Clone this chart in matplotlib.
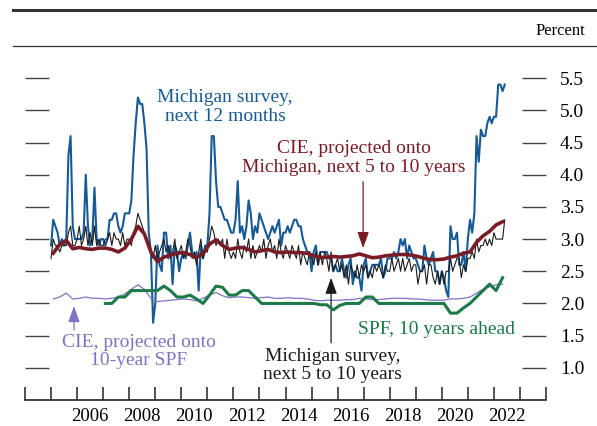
import numpy as np
import matplotlib
matplotlib.use("Agg")
import matplotlib.pyplot as plt
from matplotlib.lines import Line2D
from matplotlib.ticker import FormatStrFormatter, FixedLocator

plt.rcParams["font.family"] = ["Liberation Serif", "DejaVu Serif"]

# ---------------------------------------------------------------------------
# Data (monthly Michigan series from Jan 2005, quarterly series)
# ---------------------------------------------------------------------------

mich_12m = [
    2.9, 3.3, 3.2, 3.1, 2.9, 3.0, 2.9, 3.0, 4.3, 4.6, 3.2, 3.0,   # 2005
    3.0, 3.0, 3.0, 3.1, 4.0, 3.2, 2.9, 3.0, 3.8, 3.0, 2.9, 3.0,   # 2006
    3.0, 2.9, 3.0, 3.3, 3.3, 3.4, 3.4, 3.2, 3.1, 3.2, 3.4, 3.4,   # 2007
    3.4, 3.6, 4.3, 4.8, 5.2, 5.1, 5.1, 4.8, 4.4, 3.1, 2.8, 1.7,   # 2008
    2.0, 2.9, 2.6, 2.5, 3.1, 3.1, 2.7, 2.9, 2.3, 2.9, 2.8, 2.5,   # 2009
    2.7, 2.8, 2.7, 2.9, 3.1, 2.8, 2.7, 2.8, 2.2, 2.9, 2.7, 2.9,   # 2010
    2.9, 3.4, 4.6, 4.6, 3.9, 3.5, 3.5, 3.4, 3.3, 3.3, 3.2, 3.1,   # 2011
    3.1, 3.3, 3.9, 3.1, 3.2, 3.0, 3.2, 3.6, 3.4, 3.0, 3.2, 3.1,   # 2012
    3.4, 3.3, 3.2, 3.1, 3.0, 3.1, 3.2, 3.1, 3.2, 3.3, 2.9, 3.1,   # 2013
    3.1, 3.2, 3.1, 3.2, 3.3, 3.3, 3.2, 3.2, 3.0, 2.9, 2.8, 2.8,   # 2014
    2.5, 2.8, 2.9, 2.6, 2.8, 2.8, 2.8, 2.8, 2.7, 2.7, 2.5, 2.6,   # 2015
    2.5, 2.5, 2.7, 2.5, 2.4, 2.6, 2.7, 2.3, 2.5, 2.4, 2.4, 2.2,   # 2016
    2.6, 2.7, 2.4, 2.5, 2.6, 2.6, 2.6, 2.6, 2.7, 2.4, 2.5, 2.7,   # 2017
    2.7, 2.7, 2.8, 2.7, 2.8, 3.0, 2.9, 3.0, 2.7, 2.9, 2.8, 2.7,   # 2018
    2.7, 2.6, 2.5, 2.5, 2.9, 2.7, 2.6, 2.7, 2.8, 2.5, 2.5, 2.3,   # 2019
    2.5, 2.4, 2.2, 2.1, 3.2, 3.0, 3.0, 3.1, 2.6, 2.6, 2.8, 2.5,   # 2020
    3.0, 3.3, 3.1, 3.4, 4.6, 4.2, 4.7, 4.6, 4.6, 4.8, 4.9, 4.8,   # 2021
    4.9, 4.9, 5.4, 5.4, 5.3, 5.4,                                 # 2022
]

mich_5to10 = [
    2.7, 3.0, 2.9, 2.9, 2.8, 2.9, 2.9, 2.9, 3.1, 3.2, 2.9, 2.9,   # 2005
    3.0, 3.2, 2.9, 3.0, 3.2, 2.9, 3.1, 2.9, 3.2, 2.9, 3.0, 2.9,   # 2006
    2.9, 3.0, 3.0, 3.1, 2.9, 3.1, 3.0, 3.0, 2.9, 3.1, 2.9, 3.0,   # 2007
    3.0, 2.9, 3.1, 3.2, 3.4, 3.3, 3.2, 3.1, 3.0, 2.9, 2.8, 2.7,   # 2008
    2.9, 2.7, 2.8, 2.9, 3.0, 2.8, 2.9, 2.7, 2.8, 3.0, 2.7, 2.8,   # 2009
    2.9, 2.7, 2.8, 3.0, 2.9, 2.7, 2.8, 2.6, 2.8, 3.0, 2.7, 2.8,   # 2010
    2.8, 3.0, 3.2, 3.1, 2.9, 3.0, 2.9, 3.0, 2.7, 3.0, 2.8, 2.7,   # 2011
    2.8, 2.7, 3.0, 2.8, 2.7, 2.9, 2.8, 3.0, 2.7, 2.9, 2.7, 2.8,   # 2012
    2.9, 2.8, 3.0, 2.7, 2.9, 3.0, 2.8, 2.9, 2.7, 3.0, 2.8, 2.7,   # 2013
    2.9, 2.8, 2.7, 2.9, 2.8, 2.7, 2.9, 2.6, 2.8, 2.7, 2.6, 2.8,   # 2014
    2.7, 2.6, 2.8, 2.6, 2.8, 2.6, 2.8, 2.7, 2.5, 2.8, 2.5, 2.6,   # 2015
    2.7, 2.5, 2.6, 2.4, 2.6, 2.3, 2.6, 2.5, 2.4, 2.6, 2.4, 2.6,   # 2016
    2.5, 2.6, 2.4, 2.5, 2.4, 2.6, 2.5, 2.6, 2.5, 2.4, 2.6, 2.5,   # 2017
    2.5, 2.7, 2.5, 2.6, 2.7, 2.5, 2.7, 2.5, 2.6, 2.7, 2.5, 2.6,   # 2018
    2.6, 2.3, 2.5, 2.5, 2.6, 2.3, 2.6, 2.6, 2.4, 2.3, 2.5, 2.3,   # 2019
    2.5, 2.3, 2.5, 2.5, 2.7, 2.5, 2.6, 2.7, 2.7, 2.4, 2.6, 2.5,   # 2020
    2.7, 2.7, 2.8, 2.7, 3.0, 2.8, 2.9, 2.9, 3.0, 2.9, 3.0, 2.9,   # 2021
    3.1, 3.0, 3.0, 3.0, 3.0, 3.3,                                 # 2022
]

# quarterly, 2005:Q1 - 2022:Q2
cie_mich = [
    2.78, 2.92, 2.98, 2.85,   # 2005
    2.87, 2.85, 2.84, 2.86,   # 2006
    2.86, 2.84, 2.80, 2.86,   # 2007
    3.00, 3.20, 3.08, 2.80,   # 2008
    2.65, 2.72, 2.75, 2.78,   # 2009
    2.79, 2.76, 2.71, 2.78,   # 2010
    2.92, 2.99, 2.90, 2.84,   # 2011
    2.86, 2.87, 2.84, 2.80,   # 2012
    2.82, 2.84, 2.80, 2.79,   # 2013
    2.80, 2.79, 2.79, 2.78,   # 2014
    2.74, 2.71, 2.72, 2.73,   # 2015
    2.72, 2.73, 2.74, 2.77,   # 2016
    2.74, 2.71, 2.72, 2.74,   # 2017
    2.75, 2.76, 2.76, 2.75,   # 2018
    2.73, 2.70, 2.68, 2.68,   # 2019
    2.69, 2.72, 2.74, 2.78,   # 2020
    2.80, 2.95, 3.05, 3.12,   # 2021
    3.22, 3.27,               # 2022
]

cie_spf = [
    2.07, 2.10, 2.16, 2.07,
    2.08, 2.10, 2.08, 2.08,
    2.07, 2.08, 2.10, 2.15,
    2.22, 2.29, 2.22, 2.08,
    2.03, 2.04, 2.05, 2.06,
    2.07, 2.06, 2.04, 2.08,
    2.13, 2.17, 2.12, 2.09,
    2.10, 2.10, 2.09, 2.08,
    2.09, 2.10, 2.08, 2.08,
    2.09, 2.08, 2.08, 2.07,
    2.05, 2.04, 2.05, 2.05,
    2.05, 2.06, 2.06, 2.08,
    2.07, 2.06, 2.06, 2.07,
    2.08, 2.08, 2.08, 2.07,
    2.07, 2.06, 2.05, 2.05,
    2.05, 2.07, 2.07, 2.08,
    2.10, 2.16, 2.22, 2.26,
    2.29, 2.30,
]

# quarterly, 2007:Q1 - 2022:Q2
spf_10y = [
    2.00, 2.00, 2.10, 2.10,
    2.20, 2.20, 2.20, 2.20,
    2.20, 2.27, 2.20, 2.10,
    2.10, 2.13, 2.07, 2.00,
    2.13, 2.27, 2.25, 2.13,
    2.13, 2.20, 2.20, 2.10,
    2.00, 2.00, 2.00, 2.00,
    2.00, 2.00, 2.00, 2.00,
    2.00, 1.98, 1.98, 1.90,
    1.97, 2.00, 2.00, 2.00,
    2.10, 2.10, 2.00, 2.00,
    2.00, 2.00, 2.00, 2.00,
    2.00, 2.00, 2.00, 2.00,
    2.00, 1.85, 1.85, 1.93,
    2.00, 2.10, 2.20, 2.30,
    2.20, 2.40,
]

x_month = 2005 + np.arange(len(mich_12m)) / 12
x_q05 = 2005 + np.arange(len(cie_mich)) / 4 + 1 / 12
x_q07 = 2007 + np.arange(len(spf_10y)) / 4 + 1 / 12

BLUE = "#165a96"
RED = "#7a1c26"
GREEN = "#1b7a48"
PURPLE = "#7c74c4"
BLACK = "#1a1a1a"

# ---------------------------------------------------------------------------
# Figure
# ---------------------------------------------------------------------------

fig = plt.figure(figsize=(5.97, 4.26), dpi=100)
ax = fig.add_axes([25 / 597, 26 / 426, 521 / 597, 354 / 426])

ax.plot(x_month, mich_12m, color=BLUE, lw=1.5, zorder=2)
ax.plot(x_month, mich_5to10, color=BLACK, lw=0.8, zorder=3)
ax.plot(x_q05, cie_spf, color=PURPLE, lw=0.9, zorder=3)
ax.plot(x_q07, spf_10y, color=GREEN, lw=2.2, zorder=4)
ax.plot(x_q05, cie_mich, color=RED, lw=2.6, zorder=5)

ax.set_xlim(2004, 2024)
ax.set_ylim(0.5, 6.0)

for s in ["top", "left", "right"]:
    ax.spines[s].set_visible(False)
ax.spines["bottom"].set_color("#333333")
ax.spines["bottom"].set_linewidth(1.3)

ax.xaxis.set_major_locator(FixedLocator(range(2004, 2025)))
ax.xaxis.set_minor_locator(FixedLocator([y + 0.5 for y in range(2006, 2023, 2)]))
ax.set_xticklabels([])
ax.set_xticklabels([str(y) for y in range(2006, 2023, 2)], minor=True)
ax.tick_params(axis="x", which="major", direction="in", length=9.5, width=1.2, color="#333333")
ax.tick_params(axis="x", which="minor", length=0, pad=6, labelsize=13.5)

ax.set_yticks(np.arange(1.0, 5.51, 0.5))
ax.yaxis.set_major_formatter(FormatStrFormatter("%.1f"))
ax.yaxis.set_ticks_position("both")
ax.tick_params(axis="y", direction="in", length=17, width=1.0, color="#444444",
               labelleft=False, labelright=True, pad=10, labelsize=14)

# header rules
fig.add_artist(Line2D([13 / 597, 1], [1 - 10 / 426] * 2, lw=2.2, color="#333333"))
fig.add_artist(Line2D([13 / 597, 1], [1 - 46 / 426] * 2, lw=0.9, color="#333333"))
fig.text(560 / 597, 1 - 31 / 426, "Percent", ha="center", va="center", fontsize=12)

# annotations
ax.text(2011.68, 5.05, "Michigan survey,\nnext 12 months", color=BLUE, fontsize=14,
        ha="center", va="center", linespacing=1.1)
ax.text(2016.63, 4.26, "CIE, projected onto\nMichigan, next 5 to 10 years", color=RED,
        fontsize=14, ha="center", va="center", linespacing=1.1)
ax.text(2008.38, 1.25, "CIE, projected onto\n10-year SPF", color=PURPLE, fontsize=14,
        ha="center", va="center", linespacing=1.1)
ax.text(2015.82, 1.04, "Michigan survey,\nnext 5 to 10 years", color=BLACK, fontsize=14,
        ha="center", va="center", linespacing=1.1)
ax.text(2019.78, 1.59, "SPF, 10 years ahead", color=GREEN, fontsize=14,
        ha="center", va="center")

arrow = "-|>,head_length=0.7,head_width=0.25"
ax.annotate("", xy=(2016.98, 2.86), xytext=(2016.98, 3.89),
            arrowprops=dict(arrowstyle=arrow, color=RED, lw=0.9, mutation_scale=14,
                            shrinkA=0, shrinkB=0))
ax.annotate("", xy=(2005.88, 1.96), xytext=(2005.88, 1.59),
            arrowprops=dict(arrowstyle=arrow, color=PURPLE, lw=0.9, mutation_scale=14,
                            shrinkA=0, shrinkB=0))
ax.annotate("", xy=(2015.75, 2.4), xytext=(2015.75, 1.39),
            arrowprops=dict(arrowstyle=arrow, color=BLACK, lw=0.9, mutation_scale=14,
                            shrinkA=0, shrinkB=0))

plt.savefig("out.png", dpi=100)
plt.close()
